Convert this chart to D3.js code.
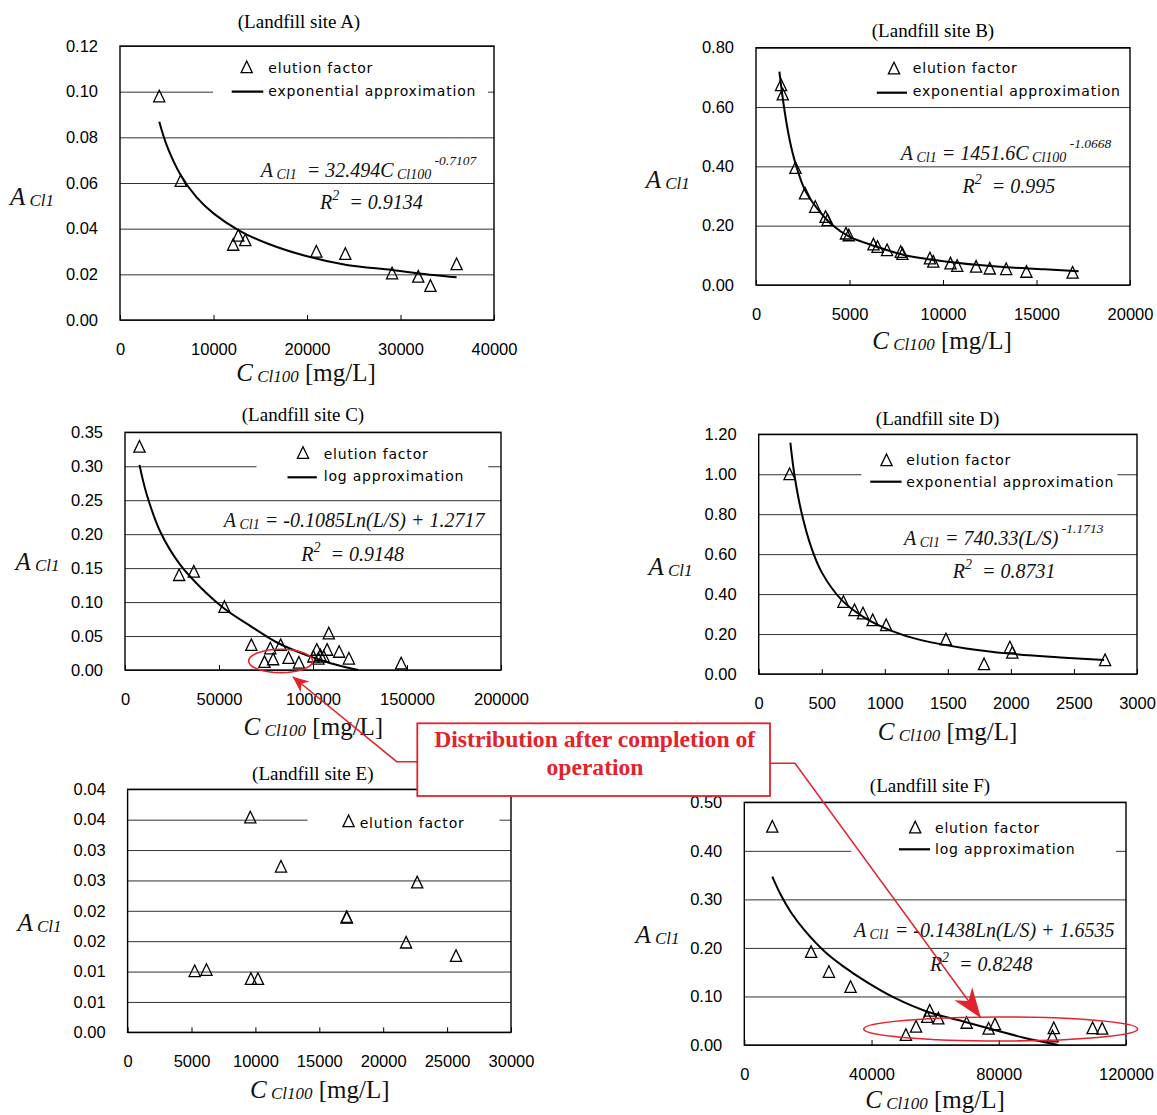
<!DOCTYPE html>
<html>
<head>
<meta charset="utf-8">
<script src="https://cdn.jsdelivr.net/npm/d3@7"></script>
<style>
body { margin: 0; background: #fff; }
svg { display: block; }
.tick text { font-family: "Liberation Sans", Arial, sans-serif; font-size: 16.5px; fill: #000; }
.serif { font-family: "Liberation Serif", "Times New Roman", serif; white-space: pre; }
.legend text { font-family: "DejaVu Sans", sans-serif; font-size: 14px; letter-spacing: 0.8px; white-space: pre; }
</style>
</head>
<body>
<svg width="1157" height="1115"></svg>
<script>
// ---- data ----
var siteA_C = [4200, 6500, 12100, 12650, 13400, 21000, 24100, 29100, 31900, 33200, 36000];
var siteA_A = [0.098, 0.061, 0.033, 0.037, 0.035, 0.030, 0.029, 0.0205, 0.019, 0.015, 0.0245];
var fitA_C = [4200, 5000, 6500, 8200, 10000, 12650, 15700, 19900, 24250, 29100, 33500, 36000];
var fitA_A = [0.0868, 0.0765, 0.0634, 0.0537, 0.0467, 0.0394, 0.0336, 0.028, 0.0241, 0.0219, 0.0197, 0.0187];

var siteB_C = [1340, 1430, 2110, 2620, 3170, 3720, 3830, 4810, 4960, 6280, 6500, 7010, 7740, 7830, 9300, 9480, 10400, 10760, 11770, 12500, 13380, 14460, 16930];
var siteB_A = [0.674, 0.643, 0.395, 0.309, 0.264, 0.230, 0.219, 0.174, 0.168, 0.137, 0.129, 0.118, 0.112, 0.105, 0.090, 0.079, 0.073, 0.065, 0.062, 0.056, 0.054, 0.045, 0.042];
var fitB_C = [1250, 1520, 1800, 2110, 2620, 3260, 4080, 4990, 6460, 7920, 10120, 12860, 15420, 17250];
var fitB_A = [0.719, 0.590, 0.489, 0.410, 0.320, 0.259, 0.202, 0.163, 0.129, 0.101, 0.079, 0.062, 0.053, 0.046];

var siteC_C = [7700, 28800, 36600, 52900, 67200, 74200, 77300, 78800, 82800, 87000, 92500, 100200, 102000, 102900, 103900, 105700, 107500, 108400, 113900, 119100, 146900];
var siteC_A = [0.329, 0.140, 0.145, 0.093, 0.037, 0.012, 0.032, 0.016, 0.037, 0.018, 0.011, 0.020, 0.030, 0.017, 0.022, 0.020, 0.030, 0.054, 0.027, 0.017, 0.010];
var fitC_C = [7700, 11400, 18700, 28800, 39700, 52600, 67200, 81900, 98400, 109300, 124000];
var fitC_A = [0.302, 0.260, 0.204, 0.157, 0.123, 0.091, 0.064, 0.039, 0.020, 0.010, 0.0];

var siteD_C = [245, 672, 760, 827, 904, 1011, 1485, 1787, 1992, 2011, 2747];
var siteD_A = [1.001, 0.362, 0.320, 0.304, 0.270, 0.245, 0.174, 0.050, 0.134, 0.108, 0.070];
var fitD_C = [251, 285, 339, 419, 499, 659, 845, 1059, 1272, 1645, 1992, 2392, 2739];
var fitD_A = [1.158, 0.99, 0.81, 0.63, 0.51, 0.37, 0.28, 0.215, 0.172, 0.128, 0.102, 0.083, 0.070];

var siteE_C = [9600, 12000, 22660, 17140, 17150, 21790, 25700, 5250, 6170, 9650, 10200];
var siteE_A = [0.0354, 0.0273, 0.0247, 0.0190, 0.0189, 0.0148, 0.0126, 0.0101, 0.0103, 0.0088, 0.0088];

var siteF_C = [8800, 21000, 26600, 33400, 50800, 54000, 57500, 58300, 61000, 69900, 76800, 78800, 96900, 97300, 109500, 112500];
var siteF_A = [0.450, 0.192, 0.151, 0.120, 0.021, 0.038, 0.058, 0.071, 0.055, 0.046, 0.034, 0.043, 0.018, 0.035, 0.035, 0.034];
var fitF_C = [8800, 11500, 14700, 19100, 25500, 30900, 38400, 47000, 57800, 68600, 79300, 87900, 98700];
var fitF_A = [0.347, 0.309, 0.273, 0.235, 0.191, 0.163, 0.130, 0.098, 0.068, 0.049, 0.030, 0.015, 0.0];

// ticks
var ticksA_x = [0, 10000, 20000, 30000, 40000];
var ticksA_y = [0, 0.02, 0.04, 0.06, 0.08, 0.10, 0.12];
var ticksB_x = [0, 5000, 10000, 15000, 20000];
var ticksB_y = [0, 0.2, 0.4, 0.6, 0.8];
var ticksC_x = [0, 50000, 100000, 150000, 200000];
var ticksC_y = [0, 0.05, 0.10, 0.15, 0.20, 0.25, 0.30, 0.35];
var ticksD_x = [0, 500, 1000, 1500, 2000, 2500, 3000];
var ticksD_y = [0, 0.2, 0.4, 0.6, 0.8, 1.0, 1.2];
var ticksE_x = [0, 5000, 10000, 15000, 20000, 25000, 30000];
var ticksE_y = [0, 0.005, 0.01, 0.015, 0.02, 0.025, 0.03, 0.035, 0.04];
var labelsE_y = ["0.00", "0.01", "0.01", "0.02", "0.02", "0.03", "0.03", "0.04", "0.04"];
var ticksF_x = [0, 40000, 80000, 120000];
var ticksF_y = [0, 0.1, 0.2, 0.3, 0.4, 0.5];

var svg = d3.select("svg");
svg.append("rect").attr("width", 1157).attr("height", 1115).attr("fill", "#fff");

var tri = "M0,-6L5.6,5.6L-5.6,5.6Z";

var panels = [
  {name: "A", left: 120, top: 46, right: 494, bottom: 320,
   ptX: siteA_C, ptY: siteA_A, fitX: fitA_C, fitY: fitA_A, xTicks: ticksA_x, yTicks: ticksA_y,
   title: [299, 28], yLab: [10, 205], xLab: [306, 381],
   legend: {box: [213, 54, 488, 104], tri: [246.7, 67], t1: [268.3, 73.3], line: [231.7, 263.3, 91.7], t2: [268.3, 96], label2: "exponential approximation"},
   eq: {pos: [260.7, 176.7], parts: [["A", "m"], [" Cl1", "s"], ["  = 32.494C", "m"], [" Cl100", "s"], [" -0.7107", "p"]], r2: [320, 209], r: "0.9134"}},
  {name: "B", left: 756, top: 47.7, right: 1130, bottom: 285,
   ptX: siteB_C, ptY: siteB_A, fitX: fitB_C, fitY: fitB_A, xTicks: ticksB_x, yTicks: ticksB_y,
   title: [933, 37], yLab: [645.7, 188], xLab: [942, 349],
   legend: {box: [869, 55, 1122, 104], tri: [894, 68.3], t1: [912.8, 73], line: [876.8, 907, 92.7], t2: [912.8, 96], label2: "exponential approximation"},
   eq: {pos: [900.8, 160], parts: [["A", "m"], [" Cl1", "s"], [" = 1451.6C", "m"], [" Cl100", "s"], [" -1.0668", "p"]], r2: [962.5, 193], r: "0.995"}},
  {name: "C", left: 125, top: 432.3, right: 501, bottom: 670,
   ptX: siteC_C, ptY: siteC_A, fitX: fitC_C, fitY: fitC_A, xTicks: ticksC_x, yTicks: ticksC_y,
   title: [303, 421], yLab: [15.5, 570], xLab: [313.4, 735],
   legend: {box: [256.5, 440, 488.3, 492], tri: [303, 452.7], t1: [323.7, 459], line: [287.5, 316.8, 477.3], t2: [323.7, 481], label2: "log approximation"},
   eq: {pos: [223.8, 527], parts: [["A", "m"], [" Cl1", "s"], [" = -0.1085Ln(L/S) + 1.2717", "m"]], r2: [301.3, 561], r: "0.9148"}},
  {name: "D", left: 758.7, top: 434.3, right: 1137, bottom: 674,
   ptX: siteD_C, ptY: siteD_A, fitX: fitD_C, fitY: fitD_A, xTicks: ticksD_x, yTicks: ticksD_y,
   title: [937.6, 425], yLab: [648.5, 575], xLab: [947.6, 740],
   legend: {box: [861.3, 446, 1117.4, 497], tri: [886.5, 460], t1: [906.3, 465], line: [870.3, 901.6, 481.7], t2: [906.3, 487], label2: "exponential approximation"},
   eq: {pos: [904, 545], parts: [["A", "m"], [" Cl1", "s"], [" = 740.33(L/S)", "m"], [" -1.1713", "p"]], r2: [952.7, 578], r: "0.8731"}},
  {name: "E", left: 127.6, top: 789.3, right: 511, bottom: 1032.3,
   ptX: siteE_C, ptY: siteE_A, xTicks: ticksE_x, yTicks: ticksE_y, yLabels: labelsE_y,
   title: [312.8, 780], yLab: [17.4, 931], xLab: [319.8, 1098],
   legend: {box: [307.6, 806, 499.5, 834], tri: [348.6, 821], t1: [359.7, 828]}},
  {name: "F", left: 744.3, top: 802.3, right: 1126, bottom: 1045,
   ptX: siteF_C, ptY: siteF_A, fitX: fitF_C, fitY: fitF_A, xTicks: ticksF_x, yTicks: ticksF_y,
   title: [930, 792], yLab: [635.4, 943], xLab: [935, 1108],
   legend: {box: [851.2, 813, 1115.9, 866], tri: [915.2, 827.3], t1: [935, 833], line: [899, 930, 849.3], t2: [935, 854], label2: "log approximation"},
   eq: {pos: [853.9, 937], parts: [["A", "m"], [" Cl1", "s"], [" = -0.1438Ln(L/S) + 1.6535", "m"]], r2: [929.9, 971], r: "0.8248"}}
];

function richText(g, x, y, parts, anchor) {
  var t = g.append("text").attr("class", "serif").attr("x", x).attr("y", y)
    .attr("text-anchor", anchor || "start").attr("fill", "#111");
  var shift = 0;
  parts.forEach(function(p) {
    var r = p[1], target = 0, size = "20px", ital = "italic";
    if (r === "s") { target = 2; size = "14px"; }
    if (r === "p") { target = -12; size = "13.5px"; }
    if (r === "p2") { target = -9; size = "14px"; }
    if (r === "L") { size = "25px"; }
    if (r === "Ls") { size = "17px"; target = 1; }
    if (r === "Lr") { size = "25px"; ital = "normal"; }
    t.append("tspan").attr("dy", target - shift).style("font-size", size).style("font-style", ital).text(p[0]);
    shift = target;
  });
  return t;
}

var scales = {};

panels.forEach(function(p) {
  var w = p.right - p.left, h = p.bottom - p.top;
  var x = d3.scaleLinear().domain([p.xTicks[0], p.xTicks[p.xTicks.length - 1]]).range([p.left, p.right]);
  var y = d3.scaleLinear().domain([p.yTicks[0], p.yTicks[p.yTicks.length - 1]]).range([p.bottom, p.top]);
  scales[p.name] = {x: x, y: y};
  var g = svg.append("g");

  // y axis + gridlines
  var ya = g.append("g").attr("transform", "translate(" + p.left + ",0)")
    .call(d3.axisLeft(y).tickValues(p.yTicks).tickSize(-w).tickPadding(22)
      .tickFormat(function(d, i) { return p.yLabels ? p.yLabels[i] : d3.format(".2f")(d); }));
  ya.select(".domain").remove();
  ya.selectAll(".tick line").attr("stroke", "#333").attr("stroke-width", 1);

  // x axis, ticks pointing inward
  var xa = g.append("g").attr("transform", "translate(0," + p.bottom + ")")
    .call(d3.axisBottom(x).tickValues(p.xTicks).tickSizeInner(-5).tickSizeOuter(0).tickPadding(23).tickFormat(d3.format("d")));
  xa.select(".domain").remove();
  xa.selectAll(".tick line").attr("stroke", "#000");

  // legend background hides gridline
  var L = p.legend;
  g.append("rect").attr("x", L.box[0]).attr("y", L.box[1])
    .attr("width", L.box[2] - L.box[0]).attr("height", L.box[3] - L.box[1]).attr("fill", "#fff");

  // trend line
  if (p.fitX) {
    g.append("path").datum(d3.zip(p.fitX, p.fitY))
      .attr("fill", "none").attr("stroke", "#000").attr("stroke-width", 2)
      .attr("d", d3.line().x(function(d) { return x(d[0]); }).y(function(d) { return y(d[1]); }).curve(d3.curveCatmullRom.alpha(0.5)));
  }

  // points
  g.append("g").selectAll("path").data(d3.zip(p.ptX, p.ptY)).join("path")
    .attr("d", tri).attr("fill", "none").attr("stroke", "#000").attr("stroke-width", 1.3)
    .attr("transform", function(d) { return "translate(" + x(d[0]) + "," + y(d[1]) + ")"; });

  // plot border
  g.append("rect").attr("x", p.left).attr("y", p.top).attr("width", w).attr("height", h)
    .attr("fill", "none").attr("stroke", "#000").attr("stroke-width", 1.4);

  // legend
  var lg = g.append("g").attr("class", "legend");
  lg.append("path").attr("d", tri).attr("fill", "none").attr("stroke", "#000").attr("stroke-width", 1.3)
    .attr("transform", "translate(" + L.tri[0] + "," + L.tri[1] + ")");
  lg.append("text").attr("x", L.t1[0]).attr("y", L.t1[1]).text("elution factor");
  if (L.line) {
    lg.append("line").attr("x1", L.line[0]).attr("x2", L.line[1]).attr("y1", L.line[2]).attr("y2", L.line[2])
      .attr("stroke", "#000").attr("stroke-width", 2.2);
    lg.append("text").attr("x", L.t2[0]).attr("y", L.t2[1]).text(L.label2);
  }

  // equation
  if (p.eq) {
    richText(g, p.eq.pos[0], p.eq.pos[1], p.eq.parts);
    richText(g, p.eq.r2[0], p.eq.r2[1], [["R", "m"], ["2", "p2"], ["  = " + p.eq.r, "m"]]);
  }

  // titles
  g.append("text").attr("class", "serif").attr("x", p.title[0]).attr("y", p.title[1])
    .attr("text-anchor", "middle").style("font-size", "19px")
    .text("(Landfill site " + p.name + ")");
  richText(g, p.yLab[0], p.yLab[1], [["A", "L"], [" Cl1", "Ls"]]);
  richText(g, p.xLab[0], p.xLab[1], [["C", "L"], [" Cl100", "Ls"], [" [mg/L]", "Lr"]], "middle");
});

// ---- annotation ----
var red = "#e3222b";
var ann = svg.append("g");

function arrowHead(tip, from, len, half, notch) {
  var dx = tip[0] - from[0], dy = tip[1] - from[1], l = Math.hypot(dx, dy);
  var ux = dx / l, uy = dy / l, nx = -uy, ny = ux;
  var bx = tip[0] - ux * len, by = tip[1] - uy * len;
  var mx = tip[0] - ux * len * (1 - notch), my = tip[1] - uy * len * (1 - notch);
  return "M" + tip + "L" + [bx + nx * half, by + ny * half] + "L" + [mx, my] + "L" + [bx - nx * half, by - ny * half] + "Z";
}

var sC = scales.C, sF = scales.F;
ann.append("ellipse").attr("cx", sC.x(82800)).attr("cy", sC.y(0.0133)).attr("rx", 32).attr("ry", 11.7)
  .attr("fill", "none").attr("stroke", red).attr("stroke-width", 1.6);
ann.append("ellipse").attr("cx", sF.x(80600)).attr("cy", sF.y(0.033)).attr("rx", 137).attr("ry", 12)
  .attr("fill", "none").attr("stroke", red).attr("stroke-width", 1.6);

var tipC = [sC.x(89200), sC.y(-0.0099)], cornerC = [396.7, 761.7];
var tipF = [sF.x(74400), sF.y(0.0556)], cornerF = [795, 763.3];
ann.append("polyline").attr("points", [[417.3, 761.7], cornerC, tipC].join(" "))
  .attr("fill", "none").attr("stroke", red).attr("stroke-width", 1.5);
ann.append("path").attr("d", arrowHead(tipC, cornerC, 16, 7, 0.3)).attr("fill", red);
ann.append("polyline").attr("points", [[770, 763.3], cornerF, tipF].join(" "))
  .attr("fill", "none").attr("stroke", red).attr("stroke-width", 1.5);
ann.append("path").attr("d", arrowHead(tipF, cornerF, 30, 11, 0.3)).attr("fill", red);

ann.append("rect").attr("x", 417.3).attr("y", 723.3).attr("width", 352.7).attr("height", 72.7)
  .attr("fill", "#fff").attr("stroke", red).attr("stroke-width", 1.8);
ann.append("text").attr("class", "serif").attr("x", 594.7).attr("y", 746.7).attr("text-anchor", "middle")
  .attr("fill", red).style("font-size", "24px").style("font-weight", "bold")
  .attr("textLength", 321).attr("lengthAdjust", "spacingAndGlyphs").text("Distribution after completion of");
ann.append("text").attr("class", "serif").attr("x", 595).attr("y", 775).attr("text-anchor", "middle")
  .attr("fill", red).style("font-size", "24px").style("font-weight", "bold")
  .attr("textLength", 97).attr("lengthAdjust", "spacingAndGlyphs").text("operation");
</script>
</body>
</html>
